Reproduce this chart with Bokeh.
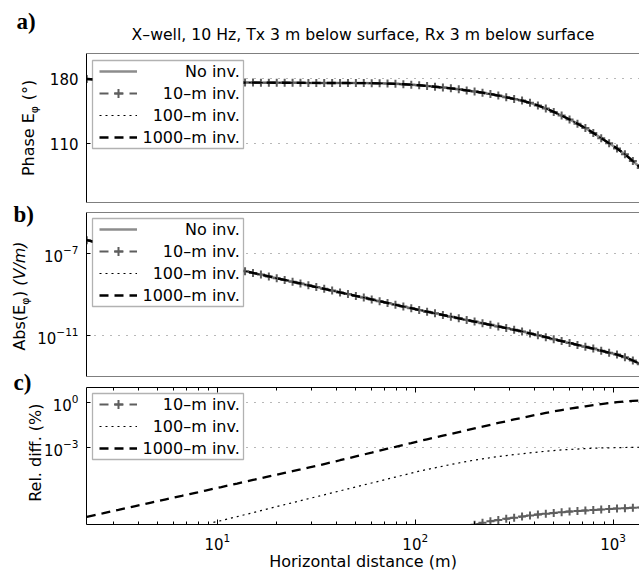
import math
import numpy as np
from bokeh.plotting import figure
from bokeh.layouts import column
from bokeh.models import (Range1d, FixedTicker, LogAxis, Label, BoxAnnotation,
                          Legend, LegendItem, Span, GridBox)
from bokeh.core.properties import value
from bokeh.embed import file_html
from bokeh.resources import INLINE

# ---------------- data ----------------
title_text = "X\u2013well, 10 Hz, Tx 3 m below surface, Rx 3 m below surface"
x_label_text = "Horizontal distance (m)"
series_names = ["No inv.", "10\u2013m inv.", "100\u2013m inv.", "1000\u2013m inv."]

distance_m = [2.188, 2.399, 2.630, 2.884, 3.162, 3.467, 3.802, 4.169, 4.571, 5.012,
              5.495, 6.026, 6.607, 7.244, 7.943, 8.710, 9.550, 10.47, 11.48, 12.59,
              13.80, 15.14, 16.60, 18.20, 19.95, 21.88, 23.99, 26.30, 28.84, 31.62,
              34.67, 38.02, 41.69, 45.71, 50.12, 54.95, 60.26, 66.07, 72.44, 79.43,
              87.10, 95.50, 104.7, 114.8, 125.9, 138.0, 151.4, 166.0, 182.0, 199.5,
              218.8, 239.9, 263.0, 288.4, 316.2, 346.7, 380.2, 416.9, 457.1, 501.2,
              549.5, 602.6, 660.7, 724.4, 794.3, 871.0, 955.0, 1047, 1148, 1259, 1380]

# phase of E_phi (degrees) - all four cases coincide in panel a
phase_deg = [179.6, 179.2, 178.8, 178.4, 178.1, 177.8, 177.5, 177.3, 177.1, 176.9,
             176.7, 176.6, 176.5, 176.4, 176.3, 176.2, 176.1, 176.0, 175.9, 175.9,
             175.8, 175.8, 175.7, 175.7, 175.6, 175.6, 175.5, 175.5, 175.4, 175.4,
             175.3, 175.3, 175.3, 175.3, 175.2, 175.2, 175.1, 175.0, 174.7, 174.4,
             174.0, 173.5, 172.9, 172.1, 171.3, 170.5, 169.6, 168.5, 167.3, 166.2,
             164.9, 163.4, 161.8, 160.0, 158.2, 156.5, 154.0, 151.2, 148.0, 144.3,
             140.3, 136.2, 131.6, 127.0, 121.7, 116.1, 110.6, 105.0, 98.8, 91.5, 84.0]

# log10 |E_phi| (V/m) - all four cases coincide in panel b
abs_e_log10 = [-6.35, -6.43, -6.50, -6.58, -6.65, -6.73, -6.80, -6.88, -6.95, -7.03,
               -7.10, -7.18, -7.25, -7.33, -7.41, -7.48, -7.56, -7.63, -7.71, -7.78,
               -7.86, -7.95, -8.03, -8.12, -8.21, -8.29, -8.38, -8.46, -8.55, -8.64,
               -8.72, -8.81, -8.90, -8.98, -9.07, -9.15, -9.24, -9.33, -9.41, -9.50,
               -9.59, -9.67, -9.76, -9.84, -9.92, -10.00, -10.08, -10.16, -10.24, -10.32,
               -10.40, -10.48, -10.56, -10.64, -10.72, -10.80, -10.90, -10.99, -11.08, -11.18,
               -11.27, -11.36, -11.46, -11.55, -11.64, -11.74, -11.84, -11.93, -12.06, -12.22, -12.40]

# log10 relative difference (%) ; None = not drawn
rel_10m_log10 = [None] * 49 + [
    -8.06, -7.94, -7.84, -7.75, -7.67, -7.60, -7.53, -7.46, -7.39, -7.34, -7.29,
    -7.24, -7.20, -7.16, -7.12, -7.09, -7.06, -7.03, -7.00, -6.97, -6.95, -6.93]
rel_100m_log10 = [None] * 16 + [
    -7.91, -7.79, -7.66, -7.53, -7.40, -7.27, -7.13, -7.00, -6.87, -6.74,
    -6.61, -6.48, -6.35, -6.22, -6.09, -5.96, -5.83, -5.70, -5.57, -5.44,
    -5.31, -5.18, -5.05, -4.92, -4.79, -4.66, -4.53, -4.42, -4.31, -4.20,
    -4.09, -3.99, -3.89, -3.80, -3.72, -3.64, -3.57, -3.50, -3.44, -3.38,
    -3.32, -3.27, -3.22, -3.17, -3.13, -3.10, -3.07, -3.04, -3.02, -3.00,
    -2.99, -2.98, -2.97, -2.96, -2.95]
rel_1000m_log10 = [-7.55, -7.43, -7.32, -7.20, -7.09, -6.97, -6.85, -6.74, -6.62, -6.51,
                   -6.39, -6.27, -6.16, -6.04, -5.93, -5.81, -5.69, -5.58, -5.46, -5.35,
                   -5.23, -5.11, -5.00, -4.88, -4.77, -4.65, -4.53, -4.42, -4.30, -4.19,
                   -4.06, -3.94, -3.81, -3.69, -3.56, -3.43, -3.31, -3.18, -3.05, -2.93,
                   -2.80, -2.68, -2.55, -2.43, -2.31, -2.19, -2.07, -1.95, -1.83, -1.71,
                   -1.59, -1.47, -1.35, -1.24, -1.12, -1.01, -0.90, -0.79, -0.69, -0.59,
                   -0.50, -0.41, -0.33, -0.25, -0.17, -0.10, -0.04, 0.02, 0.07, 0.11, 0.14]

x_limits = (2.18, 1360)
phase_limits = (47, 207)
abs_limits = (1e-13, 1e-5)
rel_limits = (10 ** -8.05, 10 ** 0.99)
phase_ticks = [110, 180]
abs_ticks = [1e-11, 1e-7]
rel_ticks = [1e-3, 1e0]
x_major_ticks = [10, 100, 1000]
x_minor_ticks = [3, 4, 5, 6, 7, 8, 9, 20, 30, 40, 50, 60, 70, 80, 90,
                 200, 300, 400, 500, 600, 700, 800, 900]

# ---------------- helpers ----------------
FONT = "DejaVu Sans"
W = 639
H = 571
LEFT = 86


def to_lin(vals):
    a = np.array([np.nan if v is None else v for v in vals], dtype=float)
    return 10.0 ** a


x = np.array(distance_m, dtype=float)


def base_fig(height, top, bottom, y_type, yr, ticks):
    p = figure(width=W, height=height, x_axis_type="log", y_axis_type=y_type,
               x_range=Range1d(*x_limits), y_range=Range1d(*yr),
               output_backend="svg", toolbar_location=None,
               min_border_left=LEFT, min_border_right=0,
               min_border_top=top, min_border_bottom=bottom)
    p.outline_line_color = None
    p.background_fill_color = "white"
    p.border_fill_color = "white"
    p.xgrid.visible = False
    tk = FixedTicker(ticks=ticks)
    p.ygrid.ticker = tk
    p.ygrid.grid_line_color = "#707070"
    p.ygrid.grid_line_dash = "1 7"
    p.ygrid.grid_line_width = 1
    ax = p.yaxis[0]
    ax.ticker = tk
    ax.axis_line_color = "black"
    ax.axis_line_width = 1
    ax.major_tick_in = 4
    ax.major_tick_out = 0
    ax.minor_tick_in = 0
    ax.minor_tick_out = 0
    ax.major_tick_line_color = "black"
    ax.major_label_text_font = FONT
    ax.major_label_text_font_size = "15px"
    ax.major_label_text_color = "black"
    ax.major_label_standoff = 8
    return p


def draw_series(p, y_no, y10, y100, y1000):
    rs = []
    if y_no is not None:
        rs.append([p.line(x, y_no, line_color="#8c8c8c", line_width=2.5)])
    l10 = p.line(x, y10, line_color="#5e5e5e", line_width=2, line_dash="9 6")
    m10 = p.scatter(x, y10, marker="cross", size=8, line_color="#5e5e5e", line_width=2)
    rs.append([l10, m10])
    rs.append([p.line(x, y100, line_color="black", line_width=1.2, line_dash="2 4")])
    rs.append([p.line(x, y1000, line_color="black", line_width=2.3, line_dash="9 6")])
    return rs


def add_legend(p, renderer_groups, names, top_rel):
    n = len(names)
    row = 22
    bottom_rel = top_rel - n * row
    p.add_layout(BoxAnnotation(left=6, right=157, top=top_rel, bottom=bottom_rel,
                               left_units="screen", right_units="screen",
                               top_units="screen", bottom_units="screen",
                               fill_color="white", fill_alpha=1.0,
                               line_color="black", line_width=1.3))
    legend = Legend(items=[LegendItem(label=value(" "), renderers=rs) for rs in renderer_groups],
                    location=(13, bottom_rel), orientation="vertical",
                    padding=0, spacing=0, margin=0,
                    glyph_width=38, glyph_height=row,
                    label_width=0, label_height=0, label_standoff=0,
                    label_text_font_size="1px",
                    border_line_color=None, background_fill_alpha=0.0)
    p.add_layout(legend)
    for i, name in enumerate(names):
        p.add_layout(Label(x=153.3, y=top_rel - row / 2 - i * row,
                           x_units="screen", y_units="screen", text=name,
                           text_align="right", text_baseline="middle",
                           text_font=FONT, text_font_size="16px", text_color="black"))


def hide_x(p, yr):
    p.xaxis.visible = False
    p.add_layout(Span(location=yr[0], dimension="width", line_color="black", line_width=1))
    p.add_layout(Span(location=yr[1], dimension="width", line_color="black", line_width=1))


# ---------------- panel a ----------------
pa = base_fig(206, 53, 4, "linear", phase_limits, phase_ticks)
hide_x(pa, phase_limits)
ra = draw_series(pa, phase_deg, phase_deg, phase_deg, phase_deg)
add_legend(pa, ra, series_names, 142)

# ---------------- panel b ----------------
abs_lin = to_lin(abs_e_log10)
pb = base_fig(171, 6, 1, "log", abs_limits, abs_ticks)
hide_x(pb, abs_limits)
rb = draw_series(pb, abs_lin, abs_lin, abs_lin, abs_lin)
add_legend(pb, rb, series_names, 158)

# ---------------- panel c ----------------
pc = base_fig(194, 10, 47, "log", rel_limits, rel_ticks)
xt = FixedTicker(ticks=x_major_ticks, minor_ticks=x_minor_ticks)
bx = pc.xaxis[0]
bx.ticker = xt
bx.axis_line_color = "black"
bx.major_tick_in = 5
bx.major_tick_out = 0
bx.minor_tick_in = 3
bx.minor_tick_out = 0
bx.major_label_text_font = FONT
bx.major_label_text_font_size = "15px"
bx.major_label_text_color = "black"
bx.major_label_standoff = 8
top_ax = LogAxis(ticker=FixedTicker(ticks=x_major_ticks, minor_ticks=x_minor_ticks),
                 major_tick_in=5, major_tick_out=0, minor_tick_in=3, minor_tick_out=0,
                 major_label_text_font_size="2px", major_label_text_color=None,
                 major_label_standoff=0, axis_line_color="black")
pc.add_layout(top_ax, "above")
rc = draw_series(pc, None, to_lin(rel_10m_log10), to_lin(rel_100m_log10), to_lin(rel_1000m_log10))
add_legend(pc, rc, series_names[1:], 131)

panels = column(pa, pb, pc, spacing=0)

# ---------------- transparent text layer (titles, axis titles, panel tags) ----------------
ov = figure(width=W, height=H, x_range=Range1d(0, W), y_range=Range1d(H, 0),
            output_backend="svg", toolbar_location=None, min_border=0,
            x_axis_location=None, y_axis_location=None,
            background_fill_color=None, border_fill_color=None, outline_line_color=None)
ov.grid.visible = False


def ov_text(px, py, text, size, align="left", angle=0.0, style="normal", font=FONT):
    ov.text(x=[px], y=[py], text=[text], angle=angle, text_align=align,
            text_baseline="middle", text_font=value(font), text_font_size=value(size),
            text_font_style=style, text_color="black")


def ov_ylabel(mid_x, center_y, parts):
    total = sum(pp[3] for pp in parts)
    y = center_y + total / 2
    for text, size, dx, adv, style in parts:
        if text:
            ov_text(mid_x + dx, y, text, f"{size}px", angle=math.pi / 2, style=style)
        y -= adv


ov_text(362.5, 34.1, title_text, "15.7px", align="center")
ov_text(362.5, 560.5, x_label_text, "16px", align="center")
ov_text(16, 21.4, "a)", "23px", style="bold", font="Liberation Serif")
ov_text(13, 214.1, "b)", "23px", style="bold", font="Liberation Serif")
ov_text(13, 382.4, "c)", "23px", style="bold", font="Liberation Serif")
ov_ylabel(28.0, 127.5, [("Phase E", 16, 0, 3.936 * 16, "normal"),
                        ("\u03c6", 11, 5.7, 0.70 * 11, "normal"),
                        ("", 16, 0, 0.318 * 16, "normal"),
                        ("(\u00b0)", 16, 0, 1.28 * 16, "normal")])
ov_ylabel(19.2, 295.5, [("Abs(E", 16, 0, 2.862 * 16, "normal"),
                        ("\u03c6", 11, 5.7, 0.70 * 11, "normal"),
                        (")", 16, 0, 0.39 * 16, "normal"),
                        ("", 16, 0, 0.318 * 16, "normal"),
                        ("(V/m)", 16, 0, 2.775 * 16, "italic")])
ov_ylabel(34.7, 451.7, [("Rel. diff. (%)", 16, 0, 6.207 * 16, "normal")])

layout = GridBox(children=[(panels, 0, 0), (ov, 0, 0)])
open("out.html", "w").write(file_html(layout, INLINE))
